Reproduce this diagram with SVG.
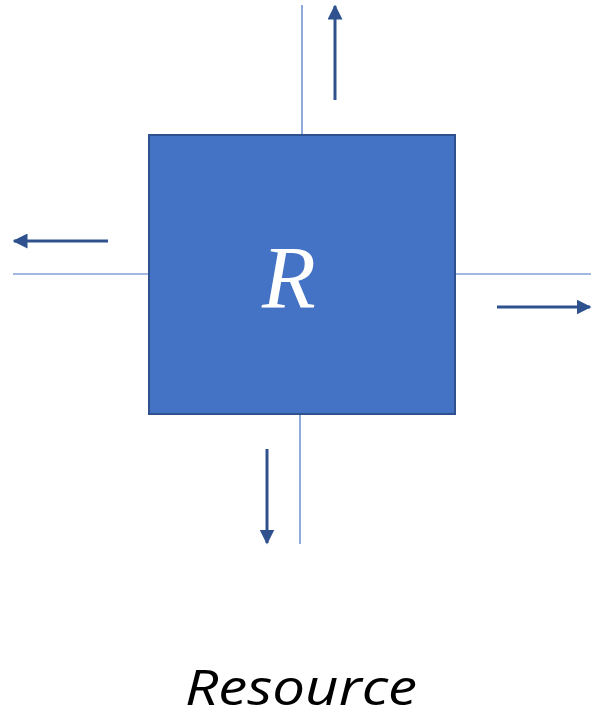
<svg xmlns="http://www.w3.org/2000/svg" width="603" height="721" viewBox="0 0 603 721">
<style>
.thin{stroke:#4472C4;stroke-width:1.2;fill:none}
.arr{stroke:#2F528F;stroke-width:3;fill:none;marker-end:url(#ah)}
</style>
<defs>
<marker id="ah" viewBox="0 0 10 10" refX="9" refY="5" markerWidth="5" markerHeight="5" orient="auto" markerUnits="strokeWidth">
<path d="M0,0 L10,5 L0,10 z" fill="#2F528F"/>
</marker>
</defs>
<rect width="603" height="721" fill="#ffffff"/>
<g id="connectors">
<line class="thin" x1="302" y1="5" x2="302" y2="135"/>
<line class="thin" x1="300" y1="414" x2="300" y2="544"/>
<line class="thin" x1="13" y1="274" x2="149" y2="274"/>
<line class="thin" x1="455" y1="274" x2="591" y2="274"/>
<line class="arr" x1="335" y1="100" x2="335" y2="6"/>
<line class="arr" x1="108" y1="241" x2="14" y2="241"/>
<line class="arr" x1="497" y1="307" x2="590" y2="307"/>
<line class="arr" x1="267" y1="449" x2="267" y2="543"/>
</g>
<g id="node-R">
<rect x="149" y="135" width="306" height="279" fill="#4472C4" stroke="#2F528F" stroke-width="2"/>
<text x="289" y="307" font-family="Liberation Serif, serif" font-style="italic" font-size="88" fill="#ffffff" text-anchor="middle">R</text>
</g>
<g id="label">
<text x="301" y="705" font-family="Open Sans, Liberation Sans, sans-serif" font-style="italic" font-size="50" fill="#000000" text-anchor="middle" textLength="232" lengthAdjust="spacingAndGlyphs">Resource</text>
</g>
</svg>
